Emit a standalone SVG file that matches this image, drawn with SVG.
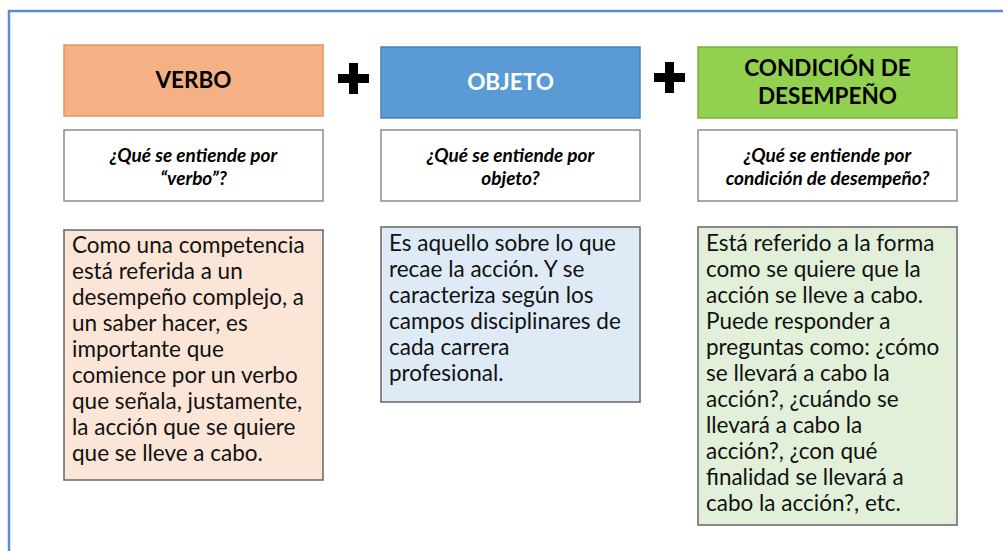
<svg xmlns="http://www.w3.org/2000/svg" width="1003" height="551" viewBox="0 0 1003 551">
  <style>
    .hdr { font-family: Lato, "Open Sans", "Liberation Sans", sans-serif; font-weight: bold; font-size: 22.5px; text-anchor: middle; }
    .q { font-family: Lato, "Open Sans", "Liberation Sans", sans-serif; font-weight: bold; font-style: italic; font-size: 19px; text-anchor: middle; fill: #000; }
    .body { font-family: Lato, "Open Sans", "Liberation Sans", sans-serif; font-size: 22.5px; fill: #111; }
    .qbox { fill: #ffffff; stroke: #8c8c8c; stroke-width: 1.5; }
    .tbox { stroke: #666666; stroke-width: 1.5; }
    .plus { fill: #000; }
  </style>
  <rect width="1003" height="551" fill="#ffffff"/>
  <path d="M9,551 V11 H1003" fill="none" stroke="#5b8bd4" stroke-width="2.5"/>

  <g id="verbo">
    <rect x="64" y="45" width="259" height="71" fill="#f4b183" stroke="#e0955e" stroke-width="1.5"/>
    <text class="hdr" x="193.5" y="88" fill="#000">VERBO</text>
    <rect class="qbox" x="64" y="130" width="259" height="71"/>
    <text class="q" x="193.5" y="162">¿Qué se entiende por</text>
    <text class="q" x="193.5" y="185">“verbo”?</text>
    <rect class="tbox" x="64" y="230" width="259" height="250" fill="#fbe5d6"/>
    <text class="body">
      <tspan x="72" y="253">Como una competencia</tspan>
      <tspan x="72" y="279">está referida a un</tspan>
      <tspan x="72" y="305">desempeño complejo, a</tspan>
      <tspan x="72" y="331">un saber hacer, es</tspan>
      <tspan x="72" y="357">importante que</tspan>
      <tspan x="72" y="383">comience por un verbo</tspan>
      <tspan x="72" y="409">que señala, justamente,</tspan>
      <tspan x="72" y="435">la acción que se quiere</tspan>
      <tspan x="72" y="461">que se lleve a cabo.</tspan>
    </text>
  </g>

  <g id="objeto">
    <rect x="381" y="47" width="259" height="71" fill="#5b9bd5" stroke="#4a82bb" stroke-width="1.5"/>
    <text class="hdr" x="510.5" y="90" fill="#ffffff">OBJETO</text>
    <rect class="qbox" x="381" y="130" width="259" height="71"/>
    <text class="q" x="510.5" y="162">¿Qué se entiende por</text>
    <text class="q" x="510.5" y="185">objeto?</text>
    <rect class="tbox" x="381" y="227" width="259" height="175" fill="#deebf7"/>
    <text class="body">
      <tspan x="389" y="251">Es aquello sobre lo que</tspan>
      <tspan x="389" y="277">recae la acción. Y se</tspan>
      <tspan x="389" y="303">caracteriza según los</tspan>
      <tspan x="389" y="329">campos disciplinares de</tspan>
      <tspan x="389" y="355">cada carrera</tspan>
      <tspan x="389" y="381">profesional.</tspan>
    </text>
  </g>

  <g id="condicion">
    <rect x="698" y="47" width="259" height="71" fill="#92d050" stroke="#78b03c" stroke-width="1.5"/>
    <text class="hdr" x="827.5" y="76" fill="#000">CONDICIÓN DE</text>
    <text class="hdr" x="827.5" y="104" fill="#000">DESEMPEÑO</text>
    <rect class="qbox" x="698" y="130" width="259" height="71"/>
    <text class="q" x="827.5" y="162">¿Qué se entiende por</text>
    <text class="q" x="827.5" y="185">condición de desempeño?</text>
    <rect class="tbox" x="698" y="227" width="259" height="298" fill="#e2f0d9"/>
    <text class="body">
      <tspan x="706" y="251">Está referido a la forma</tspan>
      <tspan x="706" y="277">como se quiere que la</tspan>
      <tspan x="706" y="303">acción se lleve a cabo.</tspan>
      <tspan x="706" y="329">Puede responder a</tspan>
      <tspan x="706" y="355">preguntas como: ¿cómo</tspan>
      <tspan x="706" y="381">se llevará a cabo la</tspan>
      <tspan x="706" y="407">acción?, ¿cuándo se</tspan>
      <tspan x="706" y="433">llevará a cabo la</tspan>
      <tspan x="706" y="459">acción?, ¿con qué</tspan>
      <tspan x="706" y="485">finalidad se llevará a</tspan>
      <tspan x="706" y="511">cabo la acción?, etc.</tspan>
    </text>
  </g>

  <g id="connectors">
    <g id="plus1">
      <rect class="plus" x="349" y="63" width="9" height="31"/>
      <rect class="plus" x="338" y="74" width="31" height="9"/>
    </g>
    <g id="plus2">
      <rect class="plus" x="665" y="62" width="9" height="31"/>
      <rect class="plus" x="654" y="73" width="31" height="9"/>
    </g>
  </g>
</svg>
